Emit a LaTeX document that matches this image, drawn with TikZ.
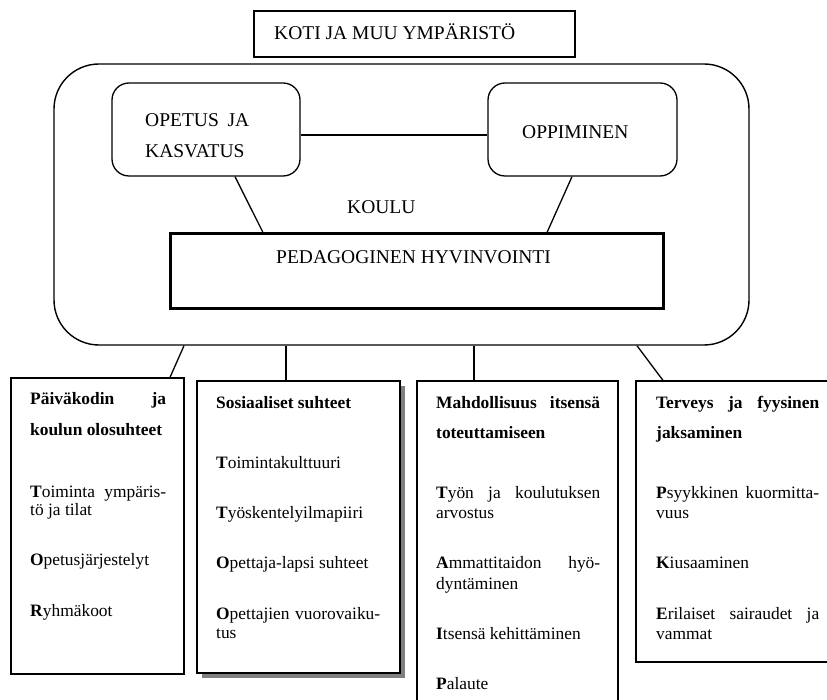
\documentclass[tikz,border=0pt]{standalone}
\usepackage{fontspec}
\setmainfont{Liberation Serif}
\usetikzlibrary{shadows}
\begin{document}
\begin{tikzpicture}[x=1pt,y=-1pt,
  box/.style={draw, line width=1.3pt, inner sep=0pt, rectangle, fill=white},
  rbox/.style={draw, line width=1.3pt, inner sep=0pt, rectangle, rounded corners=17pt},
  upper/.style={font=\fontsize{19.5}{22}\selectfont, inner sep=0pt, anchor=base west},
  lower/.style={font=\fontsize{17.4}{20}\selectfont, inner sep=0pt, anchor=base west},
  link/.style={line width=1.3pt}]
\clip (0,0) rectangle (827,700);
% top box
\node[box, minimum width=321pt, minimum height=46pt] (koti) at (414.5,34) {};
\node[upper] (kotit) at (274,39.5) {KOTI JA MUU YMPÄRISTÖ};
% school
\node[draw, line width=1.4pt, inner sep=0pt, rounded corners=45pt, minimum width=695pt, minimum height=281pt] (koulu) at (401.5,204.5) {};
\node[rbox, minimum width=188pt, minimum height=93pt] (op) at (206,129.5) {};
\node[rbox, minimum width=189pt, minimum height=93pt] (opp) at (582.5,129.5) {};
\node[draw, line width=3pt, inner sep=0pt, minimum width=493pt, minimum height=75pt] (ped) at (416.5,271.5) {};
\node[upper] (opt1) at (145,126.5) {\hbox to 104pt{OPETUS\hfill JA}};
\node[upper] (opt2) at (145,157.5) {KASVATUS};
\node[upper] (oppt) at (522,138.5) {OPPIMINEN};
\node[upper] (koulut) at (347,213.5) {KOULU};
\node[upper] (pedt) at (276,263.5) {PEDAGOGINEN HYVINVOINTI};
\draw[link] (op.east |- 0,135) -- (opp.west |- 0,135);
\draw[link] (op.south -| 235,0) -- (ped.north -| 263,0);
\draw[link] (opp.south -| 572,0) -- (ped.north -| 547,0);
% lower boxes
\node[box, minimum width=173pt, minimum height=296pt] (b1) at (97.5,526) {};
\node[box, minimum width=203pt, minimum height=292pt,
  drop shadow={shadow xshift=5pt, shadow yshift=-5pt, fill=black!50, opacity=1}] (b2) at (298.5,527) {};
\node[box, minimum width=201pt, minimum height=339pt] (b3) at (517.5,550.5) {};
\node[box, minimum width=214pt, minimum height=281pt] (b4) at (743,521.5) {};
\draw[link] (koulu.south -| 184,0) -- (b1.north -| 170,0);
\draw[link] (koulu.south -| 286,0) -- (b2.north -| 286,0);
\draw[link] (koulu.south -| 474,0) -- (b3.north -| 474,0);
\draw[link] (koulu.south -| 637,0) -- (b4.north -| 663,0);
% box 1 text
\node[lower] (a1) at (30,404) {\hbox to 136pt{\bfseries Päiväkodin\hfill ja}};
\node[lower] (a2) at (30,435) {\bfseries koulun olosuhteet};
\node[lower] (a3) at (30,497) {\hbox to 136pt{\textbf{T}oiminta\hfill ympäris-}};
\node[lower] (a4) at (30,515) {tö ja tilat};
\node[lower] (a5) at (30,565) {\textbf{O}petusjärjestelyt};
\node[lower] (a6) at (30,616) {\textbf{R}yhmäkoot};
% box 2 text
\node[lower] (s1) at (216,408) {\bfseries Sosiaaliset suhteet};
\node[lower] (s2) at (216,468) {\textbf{T}oimintakulttuuri};
\node[lower] (s3) at (216,518) {\textbf{T}yöskentelyilmapiiri};
\node[lower] (s4) at (216,568) {\textbf{O}pettaja-lapsi suhteet};
\node[lower] (s5) at (216,619) {\hbox to 164pt{\textbf{O}pettajien\hfill vuorovaiku-}};
\node[lower] (s6) at (216,638) {tus};
% box 3 text
\node[lower] (m1) at (436,408) {\hbox to 164pt{\bfseries Mahdollisuus\hfill itsensä}};
\node[lower] (m2) at (436,438) {\bfseries toteuttamiseen};
\node[lower] (m3) at (436,498) {\hbox to 164pt{\textbf{T}yön\hfill ja\hfill koulutuksen}};
\node[lower] (m4) at (436,518) {arvostus};
\node[lower] (m5) at (436,568) {\hbox to 164pt{\textbf{A}mmattitaidon\hfill hyö-}};
\node[lower] (m6) at (436,589) {dyntäminen};
\node[lower] (m7) at (436,639) {\textbf{I}tsensä kehittäminen};
\node[lower] (m8) at (436,689) {\textbf{P}alaute};
% box 4 text
\node[lower] (h1) at (656,408) {\hbox to 163pt{\bfseries Terveys\hfill ja\hfill fyysinen}};
\node[lower] (h2) at (656,438) {\bfseries jaksaminen};
\node[lower] (h3) at (656,498) {\hbox to 163pt{\textbf{P}syykkinen\hfill kuormitta-}};
\node[lower] (h4) at (656,518) {vuus};
\node[lower] (h5) at (656,568) {\textbf{K}iusaaminen};
\node[lower] (h6) at (656,619) {\hbox to 163pt{\textbf{E}rilaiset\hfill sairaudet\hfill ja}};
\node[lower] (h7) at (656,639) {vammat};
\end{tikzpicture}
\end{document}
